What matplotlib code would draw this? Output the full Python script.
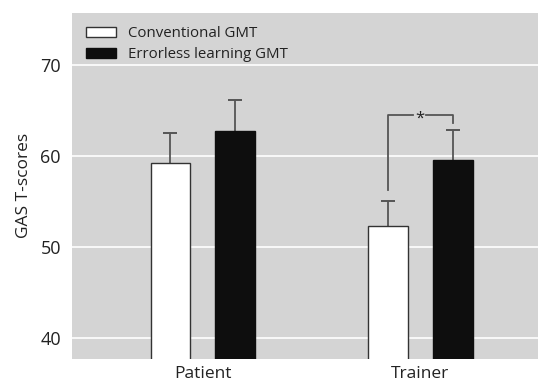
import numpy as np
import matplotlib.pyplot as plt

# data
groups = ['Patient', 'Trainer']
conventional = [59.2, 52.3]
conventional_err = [3.4, 2.8]
errorless = [62.8, 59.6]
errorless_err = [3.4, 3.3]
series_labels = ['Conventional GMT', 'Errorless learning GMT']

plt.rcParams['font.family'] = ['Open Sans', 'DejaVu Sans']

fig = plt.figure(figsize=(5.38, 3.81), dpi=100)
ax = fig.add_axes([0.134, 0.058, 0.866, 0.909])
ax.set_facecolor('#d4d4d4')

x = np.arange(len(groups))
w = 0.181
off = 0.149
ecol = '#555555'

def bars_with_err(xpos, vals, errs, face, edge, label):
    ax.bar(xpos, vals, w, color=face, edgecolor=edge, linewidth=1.0, label=label, zorder=3)
    tops = np.array(vals) + np.array(errs)
    ax.vlines(xpos, vals, tops, color=ecol, lw=1.3, zorder=2.5)
    ax.plot(xpos, tops, ls='none', marker='_', ms=10, mew=1.4, color=ecol, zorder=2.5)

bars_with_err(x - off, conventional, conventional_err, 'white', '#333333', series_labels[0])
bars_with_err(x + off, errorless, errorless_err, '#0e0e0e', '#0e0e0e', series_labels[1])

# significance bracket for trainer
xl, xr = x[1] - off, x[1] + off
ytop = 64.5
ax.plot([xl, xl, x[1] - 0.033], [56.3, ytop, ytop], color=ecol, lw=1.3, zorder=4)
ax.plot([x[1] + 0.024, xr, xr], [ytop, ytop, 63.6], color=ecol, lw=1.3, zorder=4)
ax.text(x[1] - 0.005, ytop - 0.8, '*', ha='center', va='baseline', fontsize=12, color='#222222')

ax.set_xlim(-0.6, 1.54)
ax.set_ylim(37.7, 75.8)
ax.set_yticks([40, 50, 60, 70])
ax.set_xticks(x)
ax.set_xticklabels(groups, fontsize=12.5, color='#222222')
ax.tick_params(axis='y', labelsize=13, colors='#222222', length=0, pad=8)
ax.tick_params(axis='x', length=0, pad=5)
ax.yaxis.grid(True, color='white', lw=1.2, zorder=0)
ax.set_axisbelow(True)
for s in ax.spines.values():
    s.set_visible(False)
ax.set_ylabel('GAS T-scores', fontsize=12.5, color='#222222', labelpad=6)

leg = ax.legend(loc='upper left', bbox_to_anchor=(0.0, 1.0), frameon=False,
                fontsize=10.8, handlelength=2.05, handleheight=0.62, handletextpad=0.75,
                labelspacing=0.4, borderaxespad=0.5)
for t in leg.get_texts():
    t.set_color('#222222')

fig.savefig('out.png', dpi=100)
